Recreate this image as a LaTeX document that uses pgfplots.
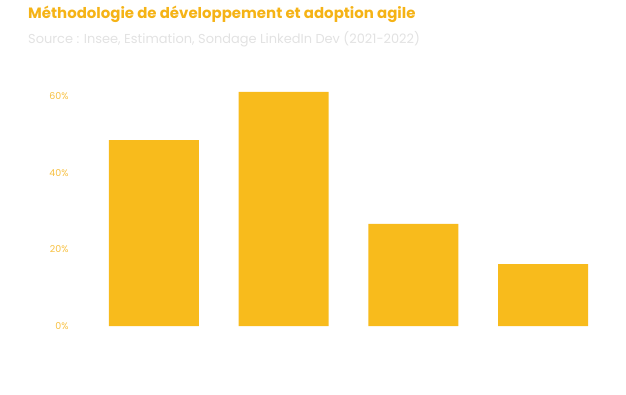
\documentclass[border=0pt]{standalone}
\usepackage{pgfplots}
\pgfplotsset{compat=1.18}
\usepackage{fontspec}
\setmainfont{Poppins}
\definecolor{baryellow}{HTML}{F8BB1C}
\definecolor{titleor}{HTML}{F5B316}
\definecolor{subgray}{HTML}{E2E2E2}
\definecolor{tickor}{HTML}{F7C040}
\begin{document}
\begin{tikzpicture}[x=1bp,y=1bp]
\path[use as bounding box] (0,0) rectangle (626,394);
\node[anchor=base west,inner sep=0pt,text=titleor,font=\fontsize{15}{17}\selectfont\bfseries] at (28,376) {Méthodologie de développement et adoption agile};
\node[anchor=base west,inner sep=0pt,text=subgray,font=\fontsize{13}{15}\selectfont] at (28,351) {Source : Insee, Estimation, Sondage LinkedIn Dev (2021-2022)};
\begin{axis}[
  at={(89bp,68bp)}, anchor=south west,
  scale only axis, width=519bp, height=237.2bp,
  xmin=-0.5, xmax=3.5, ymin=0, ymax=62,
  axis line style={draw=none},
  ybar, bar width=90bp, bar shift=0pt,
  xtick=\empty,
  ytick={0,20,40,60},
  yticklabels={0\%,20\%,40\%,60\%},
  yticklabel style={text=tickor,font=\fontsize{9.5}{11}\selectfont,anchor=east,xshift=-17bp},
  major tick length=0pt,
  clip=false,
]
\addplot[fill=baryellow,draw=none] coordinates {(0,48.6) (1,61.2) (2,26.7) (3,16.2)};
\end{axis}
\end{tikzpicture}
\end{document}
